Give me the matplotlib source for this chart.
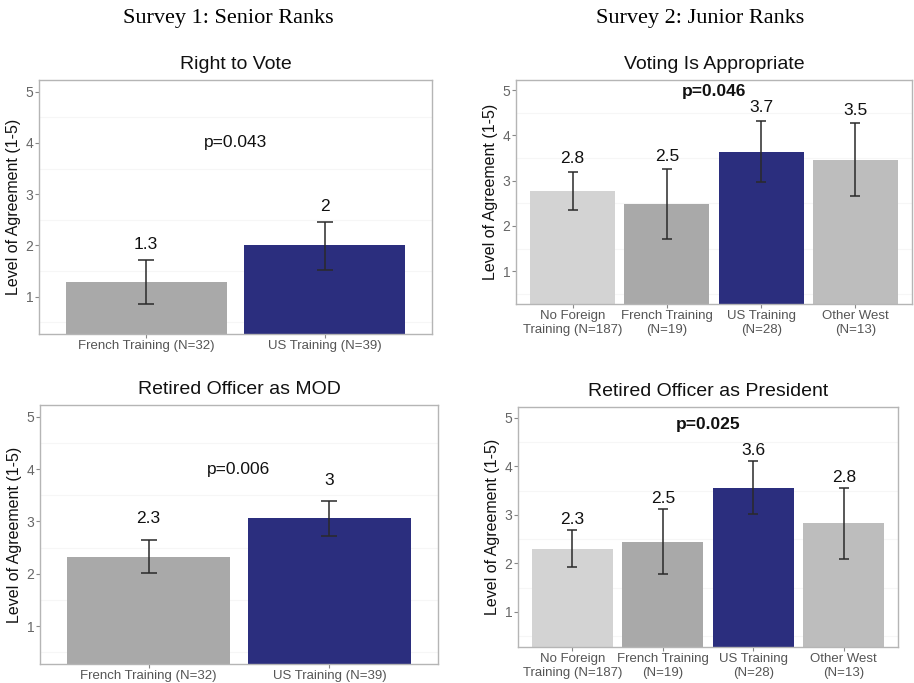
import matplotlib.pyplot as plt

plt.rcParams['font.family'] = ['Liberation Sans', 'DejaVu Sans']

W, H = 914, 683

# Survey 1 (senior ranks)
senior_groups = ["French Training (N=32)", "US Training (N=39)"]
vote_means = [1.28, 2.00]
vote_lo = [0.85, 1.53]
vote_hi = [1.72, 2.46]
vote_labels = ["1.3", "2"]
vote_p = "p=0.043"

mod_means = [2.32, 3.06]
mod_lo = [2.01, 2.72]
mod_hi = [2.65, 3.39]
mod_labels = ["2.3", "3"]
mod_p = "p=0.006"

# Survey 2 (junior ranks)
junior_groups = ["No Foreign\nTraining (N=187)", "French Training\n(N=19)",
                 "US Training\n(N=28)", "Other West\n(N=13)"]
approp_means = [2.78, 2.48, 3.64, 3.46]
approp_lo = [2.36, 1.72, 2.98, 2.66]
approp_hi = [3.20, 3.25, 4.33, 4.27]
approp_labels = ["2.8", "2.5", "3.7", "3.5"]
approp_p = "p=0.046"

pres_means = [2.30, 2.44, 3.56, 2.83]
pres_lo = [1.93, 1.79, 3.01, 2.09]
pres_hi = [2.68, 3.12, 4.11, 3.56]
pres_labels = ["2.3", "2.5", "3.6", "2.8"]
pres_p = "p=0.025"

GREY_LIGHT = "#d3d3d3"
GREY_DARK = "#a9a9a9"
GREY_MID = "#bdbdbd"
NAVY = "#2b2e7e"

fig = plt.figure(figsize=(W / 100, H / 100), dpi=100)


def add_ax(left, top, right, bottom):
    return fig.add_axes([left / W, 1 - bottom / H, (right - left) / W, (bottom - top) / H])


def panel(ax, groups, means, lo, hi, labels, colors, title, ptext, py, pbold,
          label_pad, capsize, tick_size):
    x = list(range(1, len(groups) + 1))
    ax.bar(x, means, width=0.9, color=colors, zorder=2)
    err = [[m - l for m, l in zip(means, lo)], [h - m for m, h in zip(means, hi)]]
    ax.errorbar(x, means, yerr=err, fmt='none', ecolor="#2a2a2a", elinewidth=1.1,
                capsize=capsize, capthick=1.1, zorder=3)
    for xi, h, lab in zip(x, hi, labels):
        ax.text(xi, h + label_pad, lab, ha='center', va='center', fontsize=12.5,
                color="#111111", zorder=4)
    ax.text((len(groups) + 1) / 2, py, ptext, ha='center', va='center', fontsize=12.5,
            fontweight='bold' if pbold else 'normal', color="#111111", zorder=4)
    ax.set_xlim(0.4, len(groups) + 0.6)
    ax.set_ylim(0.275, 5.225)
    ax.set_yticks([1, 2, 3, 4, 5])
    for g in [0.5, 1.5, 2.5, 3.5, 4.5]:
        ax.axhline(g, color="#f6f6f6", lw=0.8, zorder=1)
    ax.set_xticks(x)
    ax.set_xticklabels(groups, fontsize=tick_size, color="#555555", linespacing=1.15)
    ax.tick_params(axis='y', labelsize=10, labelcolor="#666666", color="#888888",
                   length=3, width=0.8, pad=1)
    ax.tick_params(axis='x', color="#888888", length=3, width=0.8, pad=1.5)
    for s in ax.spines.values():
        s.set_color("#b5b5b5")
        s.set_linewidth(1.0)
    ax.set_ylabel("Level of Agreement (1-5)", fontsize=11.5, color="#111111", labelpad=3)
    ax.set_title(title, fontsize=14, color="#111111", pad=8)


ax1 = add_ax(39, 80, 432, 334)
panel(ax1, senior_groups, vote_means, vote_lo, vote_hi, vote_labels,
      [GREY_DARK, NAVY], "Right to Vote", vote_p, 4.0, False, 0.29, 6, 9.5)

ax2 = add_ax(516, 80, 912, 304)
panel(ax2, junior_groups, approp_means, approp_lo, approp_hi, approp_labels,
      [GREY_LIGHT, GREY_DARK, NAVY, GREY_MID], "Voting Is Appropriate", approp_p,
      4.98, True, 0.28, 3.4, 9.5)

ax3 = add_ax(40, 405, 438, 664)
panel(ax3, senior_groups, mod_means, mod_lo, mod_hi, mod_labels,
      [GREY_DARK, NAVY], "Retired Officer as MOD", mod_p, 4.0, False, 0.4, 6, 9.5)

ax4 = add_ax(518, 407, 898, 647)
panel(ax4, junior_groups, pres_means, pres_lo, pres_hi, pres_labels,
      [GREY_LIGHT, GREY_DARK, NAVY, GREY_MID], "Retired Officer as President", pres_p,
      4.86, True, 0.22, 3.4, 9.5)

fig.text(228 / W, 1 - 18 / H, "Survey 1: Senior Ranks", ha='center', va='center',
         fontsize=16, family='Liberation Serif')
fig.text(700 / W, 1 - 18 / H, "Survey 2: Junior Ranks", ha='center', va='center',
         fontsize=16, family='Liberation Serif')

fig.savefig("out.png", dpi=100)
